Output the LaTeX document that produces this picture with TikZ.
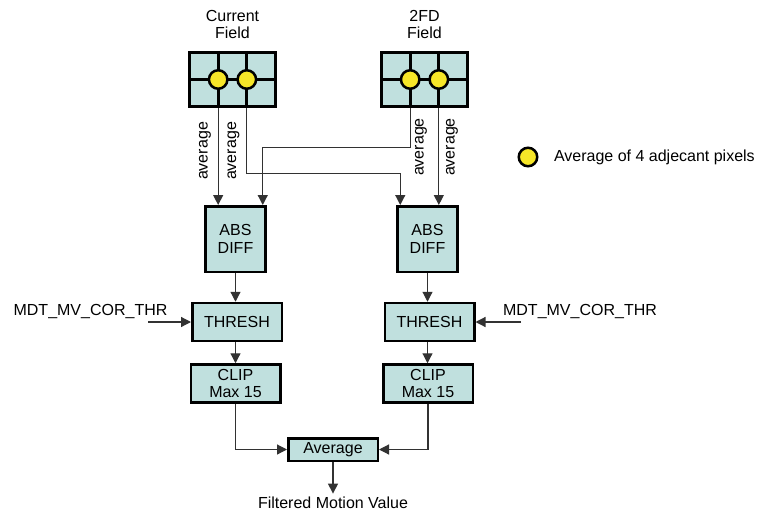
\documentclass[tikz,border=0pt]{standalone}
\usepackage{fontspec}
\setmainfont{Liberation Sans}
\usetikzlibrary{arrows.meta, positioning}

\definecolor{boxfill}{RGB}{192,224,222}
\definecolor{dotfill}{RGB}{246,230,40}
\definecolor{wire}{RGB}{50,50,50}

\begin{document}
\begin{tikzpicture}[x=1pt, y=-1pt, font=\fontsize{16}{17.5}\selectfont]
    % スタイル定義
    \tikzstyle{block} = [rectangle, draw, line width=2.5pt, fill=boxfill, align=center, inner sep=0pt, minimum width=89.5, minimum height=38]
    \tikzstyle{field} = [rectangle, draw, line width=3pt, fill=boxfill, minimum width=86, minimum height=54]
    \tikzstyle{gridline} = [draw, line width=3pt]
    \tikzstyle{dot} = [circle, draw, line width=2.5pt, fill=dotfill, minimum size=18.5, inner sep=0pt]
    \tikzstyle{line} = [draw, wire, line width=1.2pt, -{Triangle[width=10pt, length=10pt]}]
    \tikzstyle{avglabel} = [rotate=90, inner sep=1pt]

    \useasboundingbox (0,0) rectangle (759,511);

    % 画素グリッド
    \foreach \f/\x in {cur/232.5, fd/424.5} {
        \node [field] (\f) at (\x,79.5) {};
        \path [gridline] ([xshift=-14.33]\f.north) -- ([xshift=-14.33]\f.south);
        \path [gridline] ([xshift=14.33]\f.north) -- ([xshift=14.33]\f.south);
        \path [gridline] (\f.west) -- (\f.east);
        \node [dot] (\f A) at ([xshift=-14.33]\f.center) {};
        \node [dot] (\f B) at ([xshift=14.33]\f.center) {};
    }
    \node [align=center] (curT) at (232.5,24.5) {Current\\Field};
    \node [align=center] (fdT) at (424.5,24.5) {2FD\\Field};

    % 配置
    \node [block, minimum width=60, minimum height=65.5] (absL) at (235.5,239) {ABS\\DIFF};
    \node [block, minimum width=60, minimum height=65.5] (absR) at (427.5,239) {ABS\\DIFF};
    \node [block] (thrL) at (237,322) {THRESH};
    \node [block] (thrR) at (429.5,322) {THRESH};
    \node [block] (clipL) at (235.5,383.5) {CLIP\\Max 15};
    \node [block] (clipR) at (428,383.5) {CLIP\\Max 15};
    \node [block, minimum height=22.5] (avg) at (333,449.5) {Average};
    \node (out) at (333,503) {Filtered Motion Value};

    \node (mdtL) at (90.5,311) {MDT\_MV\_COR\_THR};
    \node (mdtR) at (580,311) {MDT\_MV\_COR\_THR};
    \coordinate (inL) at (148,322);
    \coordinate (inR) at (521,322);

    % 凡例
    \node [dot] (legdot) at (528,157) {};
    \node [right=12pt of legdot] (legtxt) {Average of 4 adjecant pixels};

    % 矢印
    \path [line] (curA |- cur.south) -- (curA |- absL.north);
    \path [line] (curB |- cur.south) -- ++(0,65.5) -| ([xshift=4]absR.north west);
    \path [line] (fdA |- fd.south) -- ++(0,39.5) -| ([xshift=-4]absL.north east);
    \path [line] (fdB |- fd.south) -- (fdB |- absR.north);
    \node [avglabel] (avgL1) at (205,151) {average};
    \node [avglabel] (avgL2) at (233.5,151) {average};
    \node [avglabel] (avgR1) at (421,147) {average};
    \node [avglabel] (avgR2) at (452,147) {average};

    \path [line] (absL.south) -- (absL.south |- thrL.north);
    \path [line] (absR.south) -- (absR.south |- thrR.north);
    \path [line] (inL) -- (thrL.west);
    \path [line] (inR) -- (thrR.east);
    \path [line] (thrL.south -| absL) -- (absL |- clipL.north);
    \path [line] (thrR.south -| absR) -- (absR |- clipR.north);
    \path [line] (clipL.south) |- (avg.west);
    \path [line] (clipR.south) |- (avg.east);
    \path [line] (avg.south) -- (out.north);
\end{tikzpicture}
\end{document}
